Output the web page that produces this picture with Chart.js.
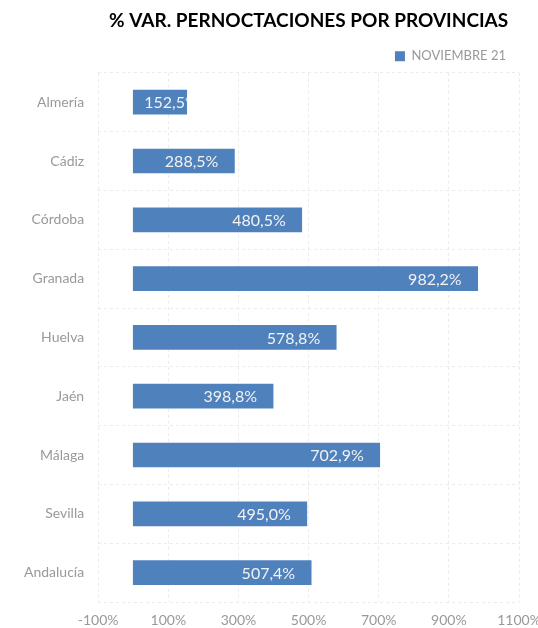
<!DOCTYPE html>
<html lang="es">
  <head>
    <meta charset="UTF-8" />
    <title>% Var. pernoctaciones por provincias</title>
    <script src="https://cdn.jsdelivr.net/npm/chart.js"></script>
    <style>
      body {
        margin: 0;
        padding: 0;
        background: #fff;
      }
      .wrap {
        width: 538px;
        height: 628px;
      }
    </style>
  </head>
  <body>
    <div class="wrap">
      <canvas id="chart" width="538" height="628"></canvas>
    </div>

    <script>
      const provincias = [
        "Almería",
        "Cádiz",
        "Córdoba",
        "Granada",
        "Huelva",
        "Jaén",
        "Málaga",
        "Sevilla",
        "Andalucía",
      ];
      const noviembre21 = [152.5, 288.5, 480.5, 982.2, 578.8, 398.8, 702.9, 495.0, 507.4];
      const xTicks = [-100, 100, 300, 500, 700, 900, 1100];

      const fontName = "Lato, 'Open Sans', sans-serif";

      // labels inside the bar end, clipped to the bar when too long
      const barLabels = {
        id: "barLabels",
        afterLayout(chart) {
          // legend sits a little left of the plot's right edge
          chart.legend.right -= 13;
        },
        afterDatasetsDraw(chart) {
          const ctx = chart.ctx;
          const meta = chart.getDatasetMeta(0);
          ctx.save();
          ctx.font = "16px " + fontName;
          ctx.fillStyle = "#f2f2f2";
          ctx.textBaseline = "middle";
          meta.data.forEach((bar, i) => {
            const txt = noviembre21[i].toFixed(1).replace(".", ",") + "%";
            const left = bar.base;
            const right = bar.x;
            const w = ctx.measureText(txt).width;
            let x = right - 16 - w;
            if (x < left + 11) x = left + 11;
            ctx.save();
            ctx.beginPath();
            ctx.rect(left, bar.y - bar.height / 2, right - left, bar.height);
            ctx.clip();
            ctx.textAlign = "left";
            ctx.fillText(txt, x, bar.y + 1);
            ctx.restore();
          });
          ctx.restore();
        },
      };

      new Chart(document.getElementById("chart"), {
        type: "bar",
        data: {
          labels: provincias,
          datasets: [
            {
              label: "NOVIEMBRE 21",
              data: noviembre21,
              backgroundColor: "#4f81bd",
              borderWidth: 0,
              barThickness: 24,
            },
          ],
        },
        options: {
          indexAxis: "y",
          responsive: false,
          animation: false,
          layout: { padding: { left: 10, right: 0, top: 2, bottom: 0 } },
          plugins: {
            title: {
              display: true,
              fullSize: false,
              text: "% VAR. PERNOCTACIONES POR PROVINCIAS",
              color: "#000",
              font: { family: fontName, size: 19, weight: "bold" },
              padding: { top: 7, bottom: 18 },
            },
            legend: {
              display: true,
              align: "end",
              fullSize: false,
              labels: {
                color: "#999",
                boxWidth: 10,
                boxHeight: 10,
                font: { family: fontName, size: 13 },
                padding: 0,
              },
            },
            tooltip: { enabled: false },
          },
          scales: {
            x: {
              min: -100,
              max: 1100,
              afterBuildTicks(axis) {
                axis.ticks = xTicks.map((v) => ({ value: v }));
              },
              afterFit(axis) {
                axis.height = 26;
                axis.paddingRight = 19;
              },
              ticks: {
                color: "#999",
                font: { family: fontName, size: 14 },
                padding: 10,
                maxRotation: 0,
                callback: (v) => v + "%",
              },
              grid: {
                color: "#ebebeb",
                drawTicks: false,
              },
              border: { display: false, dash: [3, 3] },
            },
            y: {
              ticks: {
                color: "#999",
                font: { family: fontName, size: 14 },
                padding: 14,
              },
              grid: {
                color: "#ebebeb",
                drawTicks: false,
              },
              border: { display: false, dash: [3, 3] },
            },
          },
        },
        plugins: [barLabels],
      });
    </script>
  </body>
</html>
